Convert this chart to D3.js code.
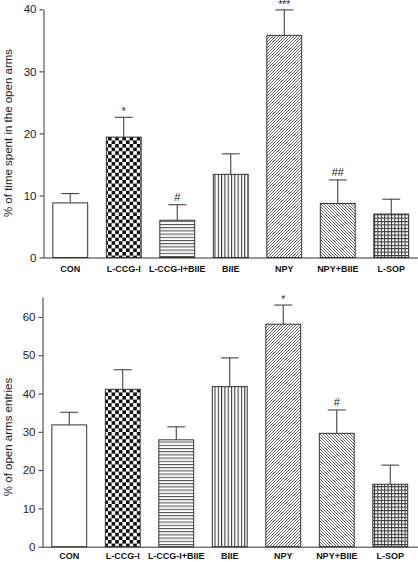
<!DOCTYPE html>
<html><head><meta charset="utf-8">
<script src="https://cdn.jsdelivr.net/npm/d3@7"></script>
<style>
html,body{margin:0;padding:0;background:#fff;}
svg{display:block;font-family:"Liberation Sans",Arial,sans-serif;}
</style></head>
<body>
<svg id="chart" width="418" height="562"></svg>
<script>
const categories = ["CON","L-CCG-I","L-CCG-I+BIIE","BIIE","NPY","NPY+BIIE","L-SOP"];
const patterns = ["none","checker","hlines","vlines","diagR","diagL","grid"];
const timeValues = [8.8, 19.4, 6.0, 13.4, 35.8, 8.7, 7.0];
const timeErrors = [1.5, 3.2, 2.5, 3.3, 4.1, 3.8, 2.4];
const timeMarks  = ["", "*", "#", "", "***", "##", ""];
const entryValues = [31.8, 41.1, 27.9, 41.8, 58.1, 29.6, 16.3];
const entryErrors = [3.3, 5.1, 3.4, 7.5, 5.0, 6.1, 5.0];
const entryMarks  = ["", "", "", "", "*", "#", ""];
const timeTicks = [0,10,20,30,40];
const entryTicks = [0,10,20,30,40,50,60];

const svg = d3.select("#chart");
const defs = svg.append("defs");
const ink = "#333";

function pat(id, size, draw){
  const p = defs.append("pattern").attr("id", id).attr("patternUnits","userSpaceOnUse")
    .attr("width", size).attr("height", size);
  p.append("rect").attr("width", size).attr("height", size).attr("fill","#fff");
  draw(p, size);
}
pat("checker", 7.2, (p,s)=>{
  p.append("rect").attr("width",s/2).attr("height",s/2).attr("fill","#111");
  p.append("rect").attr("x",s/2).attr("y",s/2).attr("width",s/2).attr("height",s/2).attr("fill","#111");
});
pat("hlines", 3.2, (p,s)=>{
  p.append("line").attr("x1",0).attr("x2",s).attr("y1",0.5).attr("y2",0.5).attr("stroke","#444").attr("stroke-width",1);
});
pat("vlines", 3.3, (p,s)=>{
  p.append("line").attr("y1",0).attr("y2",s).attr("x1",0.5).attr("x2",0.5).attr("stroke","#333").attr("stroke-width",1.1);
});
pat("diagR", 3, (p,s)=>{
  p.append("path").attr("d",`M0,${s} L${s},0 M${-s/2},${s/2} L${s/2},${-s/2} M${s/2},${s*1.5} L${s*1.5},${s/2}`)
    .attr("stroke","#555").attr("stroke-width",0.9);
});
pat("diagL", 3, (p,s)=>{
  p.append("path").attr("d",`M0,0 L${s},${s} M${-s/2},${s/2} L${s/2},${s*1.5} M${s/2},${-s/2} L${s*1.5},${s/2}`)
    .attr("stroke","#555").attr("stroke-width",0.9);
});
pat("grid", 3.4, (p,s)=>{
  p.append("path").attr("d",`M0,0.5 H${s} M0.5,0 V${s}`).attr("stroke","#333").attr("stroke-width",1);
});

function panel(cfg){
  const x = d3.scaleBand().domain(categories).range(cfg.xr).paddingInner(0.33).paddingOuter(0.165);
  const y = d3.scaleLinear().domain(cfg.domain).range(cfg.yr);
  const g = svg.append("g");

  const bw = x.bandwidth();
  categories.forEach((c,i)=>{
    const v = cfg.values[i], e = cfg.errors[i];
    const cx = x(c) + bw/2;
    g.append("line").attr("x1",cx).attr("x2",cx).attr("y1",y(v)).attr("y2",y(v+e))
      .attr("stroke",ink).attr("stroke-width",1);
    g.append("line").attr("x1",cx-bw/4).attr("x2",cx+bw/4).attr("y1",y(v+e)).attr("y2",y(v+e))
      .attr("stroke",ink).attr("stroke-width",1);
    g.append("rect").attr("x",x(c)+0.5).attr("y",y(v)).attr("width",bw-1).attr("height",y(0)-y(v))
      .attr("fill", patterns[i]==="none" ? "#fff" : `url(#${patterns[i]})`)
      .attr("stroke",ink).attr("stroke-width",1);
    if (cfg.marks[i]) {
      const isHash = cfg.marks[i].includes("#");
      g.append("text").attr("x",cx).attr("y",y(v+e) - (isHash?4:2))
        .attr("text-anchor","middle").attr("font-size", isHash?11:10).attr("fill","#222")
        .text(cfg.marks[i]);
    }
  });

  const ya = g.append("g").attr("transform",`translate(${cfg.xr[0]},0)`)
    .call(d3.axisLeft(y).tickValues(cfg.ticks).tickSize(4).tickSizeOuter(0).tickPadding(3));
  ya.select(".domain").attr("stroke",ink);
  ya.selectAll(".tick line").attr("stroke",ink);
  ya.selectAll("text").attr("font-size",11.5).attr("fill","#222").attr("font-family","Liberation Sans, Arial, sans-serif");

  const xa = g.append("g").attr("transform",`translate(0,${y(0)})`)
    .call(d3.axisBottom(x).tickSize(0).tickPadding(cfg.labelPad));
  xa.select(".domain").attr("d",`M${cfg.xr[0]},0.5H418`).attr("stroke",ink);
  xa.selectAll("text").attr("font-size",9).attr("font-weight","bold").attr("fill","#111")
    .attr("font-family","Liberation Sans, Arial, sans-serif");

  g.append("text").attr("transform",`translate(${cfg.titleX},${cfg.titleY}) rotate(-90)`)
    .attr("text-anchor","middle").attr("font-size",11.5).attr("fill","#222").text(cfg.title);
}

panel({xr:[43.5,418], yr:[257.5,9.3], domain:[0,40], ticks:timeTicks,
  values:timeValues, errors:timeErrors, marks:timeMarks, labelPad:8,
  title:"% of time spent in the open arms", titleX:12, titleY:133});
panel({xr:[42.5,417], yr:[546.7,297], domain:[0,65.2], ticks:entryTicks,
  values:entryValues, errors:entryErrors, marks:entryMarks, labelPad:6,
  title:"% of open arms entries", titleX:12, titleY:437});
</script>
</body></html>
